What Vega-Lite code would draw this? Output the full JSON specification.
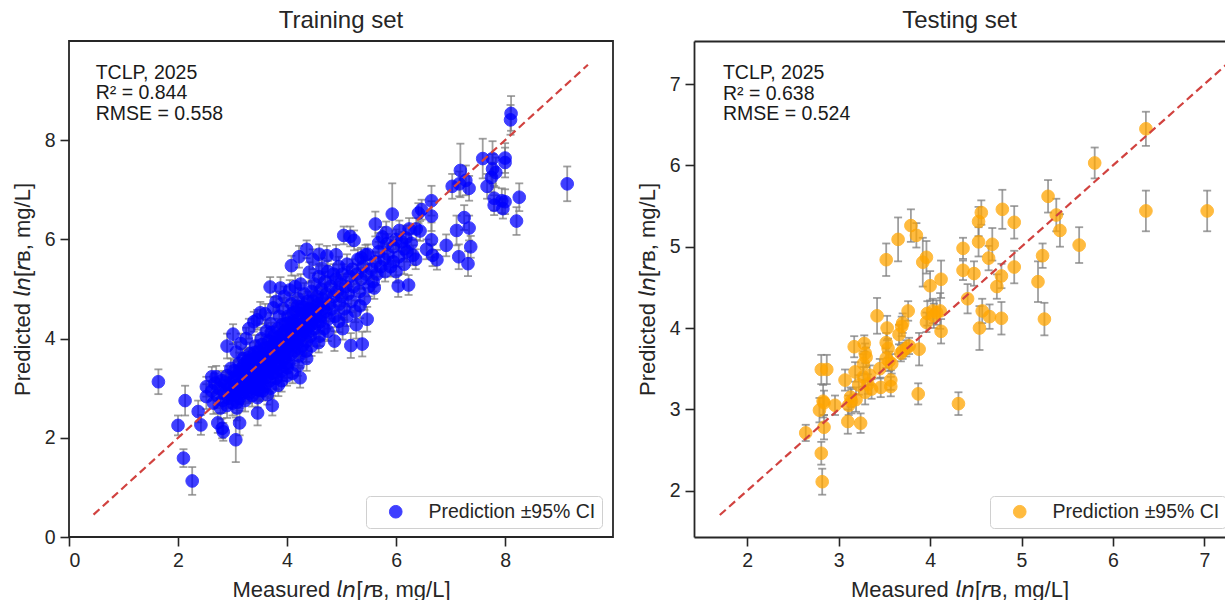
{
  "$schema": "https://vega.github.io/schema/vega-lite/v6.json",
  "padding": {"left": 10, "top": 8, "right": 0, "bottom": 0},
  "spacing": 22,
  "config": {
    "font": "Liberation Sans",
    "view": {"stroke": "#262626", "strokeWidth": 1.8},
    "axis": {"grid": false, "domain": false, "tickColor": "#262626", "tickWidth": 1.6, "tickSize": 9, "labelFontSize": 19.5, "labelColor": "#262626", "labelPadding": 5, "titleFontSize": 22, "titleFontWeight": "normal", "titleColor": "#262626", "titlePadding": 10},
    "title": {"fontSize": 24, "fontWeight": "normal", "color": "#262626", "offset": 8},
    "legend": {"title": null, "strokeColor": "#d0d0d0", "fillColor": "white", "cornerRadius": 4, "padding": 6, "labelFontSize": 19.5, "labelColor": "#262626", "labelLimit": 0, "symbolSize": 160, "symbolOpacity": 0.75, "symbolType": "circle", "symbolOffset": 14, "labelOffset": 23, "symbolStrokeWidth": 1}
  },
  "resolve": {"scale": {"color": "independent"}},
  "datasets": {
    "train": [
      {"x":1.64,"y":3.13,"e":0.25},{"x":2.13,"y":2.75,"e":0.3},{"x":2.00,"y":2.25,"e":0.2},{"x":2.10,"y":1.59,"e":0.18},{"x":2.26,"y":1.13,"e":0.28},
      {"x":2.42,"y":2.26,"e":0.2},{"x":2.37,"y":2.53,"e":0.22},{"x":2.52,"y":3.03,"e":0.2},{"x":2.52,"y":2.83,"e":0.25},{"x":2.62,"y":3.23,"e":0.2},
      {"x":2.70,"y":3.23,"e":0.22},{"x":2.73,"y":2.30,"e":0.2},{"x":2.81,"y":2.19,"e":0.2},{"x":2.83,"y":2.12,"e":0.18},{"x":3.06,"y":1.96,"e":0.45},
      {"x":3.13,"y":2.30,"e":0.25},{"x":3.46,"y":2.50,"e":0.25},{"x":3.73,"y":2.65,"e":0.2},{"x":3.64,"y":2.87,"e":0.2},{"x":3.84,"y":3.06,"e":0.22},
      {"x":3.46,"y":2.81,"e":0.2},{"x":4.24,"y":3.21,"e":0.2},{"x":4.00,"y":3.41,"e":0.2},{"x":4.36,"y":3.60,"e":0.25},{"x":4.58,"y":3.92,"e":0.2},
      {"x":4.87,"y":3.95,"e":0.2},{"x":5.02,"y":4.20,"e":0.22},{"x":5.17,"y":3.86,"e":0.25},{"x":5.38,"y":3.89,"e":0.25},{"x":5.27,"y":4.28,"e":0.28},
      {"x":5.47,"y":4.39,"e":0.25},{"x":5.34,"y":4.66,"e":0.25},{"x":3.01,"y":4.09,"e":0.2},{"x":2.90,"y":3.85,"e":0.25},{"x":3.39,"y":4.34,"e":0.2},
      {"x":3.51,"y":4.52,"e":0.22},{"x":3.69,"y":5.04,"e":0.2},{"x":3.88,"y":5.02,"e":0.22},{"x":4.08,"y":5.47,"e":0.2},{"x":4.22,"y":5.65,"e":0.22},
      {"x":4.36,"y":5.80,"e":0.18},{"x":4.47,"y":5.60,"e":0.2},{"x":4.59,"y":5.70,"e":0.2},{"x":4.73,"y":5.67,"e":0.2},{"x":4.90,"y":5.69,"e":0.2},
      {"x":4.41,"y":5.34,"e":0.2},{"x":4.64,"y":5.42,"e":0.2},{"x":5.04,"y":6.08,"e":0.18},{"x":5.16,"y":6.06,"e":0.2},{"x":5.23,"y":5.98,"e":0.2},
      {"x":5.36,"y":5.63,"e":0.2},{"x":5.44,"y":5.69,"e":0.2},{"x":5.62,"y":6.31,"e":0.25},{"x":5.82,"y":6.14,"e":0.22},{"x":5.83,"y":5.91,"e":0.2},
      {"x":5.93,"y":6.51,"e":0.62},{"x":6.06,"y":6.18,"e":0.2},{"x":6.24,"y":6.21,"e":0.22},{"x":6.41,"y":6.53,"e":0.2},{"x":6.47,"y":6.60,"e":0.2},
      {"x":6.65,"y":6.78,"e":0.3},{"x":6.65,"y":6.47,"e":0.3},{"x":6.37,"y":6.21,"e":0.22},{"x":6.44,"y":6.17,"e":0.2},{"x":6.18,"y":6.03,"e":0.25},
      {"x":6.28,"y":5.92,"e":0.2},{"x":6.15,"y":5.81,"e":0.2},{"x":6.31,"y":5.68,"e":0.2},{"x":6.36,"y":5.60,"e":0.2},{"x":6.56,"y":5.80,"e":0.2},
      {"x":6.65,"y":5.99,"e":0.35},{"x":6.67,"y":5.68,"e":0.22},{"x":6.75,"y":5.59,"e":0.2},{"x":6.92,"y":5.88,"e":0.22},{"x":7.11,"y":6.18,"e":0.3},
      {"x":7.15,"y":5.65,"e":0.25},{"x":7.32,"y":5.51,"e":0.25},{"x":7.37,"y":5.85,"e":0.22},{"x":7.34,"y":6.23,"e":0.25},{"x":7.25,"y":6.44,"e":0.25},
      {"x":7.03,"y":7.07,"e":0.25},{"x":7.18,"y":7.39,"e":0.54},{"x":7.28,"y":7.19,"e":0.3},{"x":7.34,"y":7.03,"e":0.25},{"x":7.16,"y":7.12,"e":0.25},
      {"x":7.59,"y":7.63,"e":0.4},{"x":7.77,"y":7.63,"e":0.35},{"x":7.77,"y":7.42,"e":0.3},{"x":7.83,"y":7.35,"e":0.3},{"x":7.75,"y":7.25,"e":0.3},
      {"x":7.67,"y":7.07,"e":0.25},{"x":8.00,"y":7.64,"e":0.3},{"x":8.00,"y":7.55,"e":0.3},{"x":8.11,"y":8.54,"e":0.35},{"x":8.10,"y":8.41,"e":0.3},
      {"x":7.80,"y":6.83,"e":0.25},{"x":7.94,"y":6.78,"e":0.25},{"x":8.00,"y":6.76,"e":0.25},{"x":7.80,"y":6.69,"e":0.2},{"x":7.96,"y":6.62,"e":0.2},
      {"x":8.26,"y":6.85,"e":0.28},{"x":8.21,"y":6.37,"e":0.28},{"x":9.14,"y":7.12,"e":0.35},
      {"x":2.62,"y":2.95,"e":0.2},{"x":2.65,"y":2.70,"e":0.22},{"x":2.68,"y":3.10,"e":0.2},{"x":2.72,"y":2.85,"e":0.25},{"x":2.75,"y":3.00,"e":0.2},
      {"x":2.78,"y":2.60,"e":0.22},{"x":2.80,"y":3.15,"e":0.2},{"x":2.82,"y":2.75,"e":0.25},{"x":2.85,"y":2.90,"e":0.2},{"x":2.87,"y":3.05,"e":0.22},
      {"x":2.90,"y":2.65,"e":0.25},{"x":2.90,"y":3.25,"e":0.2},{"x":2.93,"y":2.80,"e":0.2},{"x":2.95,"y":3.00,"e":0.22},{"x":2.97,"y":3.40,"e":0.2},
      {"x":3.00,"y":2.70,"e":0.25},{"x":3.00,"y":2.95,"e":0.2},{"x":3.02,"y":3.15,"e":0.2},{"x":3.03,"y":3.35,"e":0.22},{"x":3.05,"y":2.85,"e":0.2},
      {"x":3.07,"y":3.05,"e":0.2},{"x":3.08,"y":2.60,"e":0.25},{"x":3.10,"y":3.25,"e":0.2},{"x":3.10,"y":2.95,"e":0.2},{"x":3.12,"y":3.50,"e":0.22},
      {"x":3.13,"y":2.80,"e":0.2},{"x":3.15,"y":3.10,"e":0.2},{"x":3.17,"y":3.30,"e":0.2},{"x":3.18,"y":2.90,"e":0.22},{"x":3.20,"y":3.60,"e":0.2},
      {"x":3.20,"y":3.00,"e":0.2},{"x":3.22,"y":3.20,"e":0.2},{"x":3.23,"y":2.75,"e":0.22},{"x":3.25,"y":3.40,"e":0.2},{"x":3.26,"y":3.05,"e":0.2},
      {"x":3.28,"y":3.55,"e":0.22},{"x":3.30,"y":2.90,"e":0.2},{"x":3.30,"y":3.25,"e":0.2},{"x":3.32,"y":3.70,"e":0.22},{"x":3.33,"y":3.10,"e":0.2},
      {"x":3.35,"y":3.45,"e":0.2},{"x":3.36,"y":2.85,"e":0.22},{"x":3.38,"y":3.30,"e":0.2},{"x":3.40,"y":3.60,"e":0.2},{"x":3.40,"y":3.00,"e":0.2},
      {"x":3.42,"y":3.85,"e":0.22},{"x":3.43,"y":3.20,"e":0.2},{"x":3.45,"y":3.50,"e":0.2},{"x":3.46,"y":3.10,"e":0.2},{"x":3.48,"y":3.75,"e":0.22},
      {"x":3.50,"y":3.35,"e":0.2},{"x":3.50,"y":2.95,"e":0.2},{"x":3.52,"y":3.60,"e":0.2},{"x":3.53,"y":4.00,"e":0.22},{"x":3.55,"y":3.20,"e":0.2},
      {"x":3.56,"y":3.45,"e":0.2},{"x":3.58,"y":3.80,"e":0.2},{"x":3.60,"y":3.05,"e":0.22},{"x":3.60,"y":3.55,"e":0.2},{"x":3.62,"y":4.15,"e":0.22},
      {"x":3.63,"y":3.35,"e":0.2},{"x":3.65,"y":3.70,"e":0.2},{"x":3.66,"y":3.95,"e":0.2},{"x":3.68,"y":3.15,"e":0.22},{"x":3.70,"y":3.50,"e":0.2},
      {"x":3.70,"y":4.30,"e":0.22},{"x":3.72,"y":3.85,"e":0.2},{"x":3.73,"y":3.30,"e":0.2},{"x":3.75,"y":3.65,"e":0.2},{"x":3.76,"y":4.05,"e":0.2},
      {"x":3.78,"y":3.45,"e":0.2},{"x":3.80,"y":3.90,"e":0.2},{"x":3.80,"y":3.20,"e":0.22},{"x":3.82,"y":3.70,"e":0.2},{"x":3.83,"y":4.20,"e":0.2},
      {"x":3.85,"y":3.50,"e":0.2},{"x":3.86,"y":4.45,"e":0.22},{"x":3.88,"y":3.95,"e":0.2},{"x":3.90,"y":3.35,"e":0.2},{"x":3.90,"y":3.75,"e":0.2},
      {"x":3.92,"y":4.10,"e":0.2},{"x":3.93,"y":4.60,"e":0.22},{"x":3.95,"y":3.60,"e":0.2},{"x":3.96,"y":3.90,"e":0.2},{"x":3.98,"y":4.30,"e":0.2},
      {"x":4.00,"y":3.70,"e":0.2},{"x":4.00,"y":4.05,"e":0.2},{"x":4.02,"y":4.45,"e":0.22},{"x":4.03,"y":3.50,"e":0.2},{"x":4.05,"y":3.85,"e":0.2},
      {"x":4.06,"y":4.20,"e":0.2},{"x":4.08,"y":4.70,"e":0.22},{"x":4.10,"y":3.95,"e":0.2},{"x":4.12,"y":4.35,"e":0.2},{"x":4.13,"y":3.75,"e":0.2},
      {"x":4.15,"y":4.10,"e":0.2},{"x":4.16,"y":4.55,"e":0.22},{"x":4.18,"y":3.90,"e":0.2},{"x":4.20,"y":4.25,"e":0.2},{"x":4.20,"y":4.80,"e":0.22},
      {"x":4.22,"y":3.65,"e":0.2},{"x":4.24,"y":4.40,"e":0.2},{"x":4.25,"y":4.05,"e":0.2},{"x":4.27,"y":4.65,"e":0.2},{"x":4.28,"y":3.85,"e":0.2},
      {"x":4.30,"y":4.30,"e":0.2},{"x":4.32,"y":4.90,"e":0.22},{"x":4.33,"y":4.15,"e":0.2},{"x":4.35,"y":4.50,"e":0.2},{"x":4.36,"y":3.95,"e":0.2},
      {"x":4.38,"y":4.75,"e":0.2},{"x":4.40,"y":4.25,"e":0.2},{"x":4.42,"y":4.60,"e":0.2},{"x":4.43,"y":4.05,"e":0.2},{"x":4.45,"y":4.95,"e":0.22},
      {"x":4.46,"y":4.40,"e":0.2},{"x":4.48,"y":4.75,"e":0.2},{"x":4.50,"y":4.20,"e":0.2},{"x":4.50,"y":5.10,"e":0.22},{"x":4.52,"y":4.55,"e":0.2},
      {"x":4.55,"y":4.85,"e":0.2},{"x":4.56,"y":4.30,"e":0.2},{"x":4.58,"y":5.25,"e":0.22},{"x":4.60,"y":4.65,"e":0.2},{"x":4.62,"y":4.45,"e":0.2},
      {"x":4.63,"y":5.00,"e":0.2},{"x":4.65,"y":4.80,"e":0.2},{"x":4.68,"y":4.20,"e":0.22},{"x":4.70,"y":5.15,"e":0.2},{"x":4.70,"y":4.55,"e":0.2},
      {"x":4.72,"y":4.90,"e":0.2},{"x":4.75,"y":5.35,"e":0.22},{"x":4.76,"y":4.40,"e":0.2},{"x":4.78,"y":4.70,"e":0.2},{"x":4.80,"y":5.05,"e":0.2},
      {"x":4.82,"y":4.60,"e":0.2},{"x":4.85,"y":5.30,"e":0.2},{"x":4.86,"y":4.85,"e":0.2},{"x":4.88,"y":4.45,"e":0.22},{"x":4.90,"y":5.20,"e":0.2},
      {"x":4.92,"y":4.95,"e":0.2},{"x":4.95,"y":5.45,"e":0.2},{"x":4.96,"y":4.70,"e":0.2},{"x":4.98,"y":5.10,"e":0.2},{"x":5.00,"y":4.85,"e":0.2},
      {"x":5.02,"y":5.30,"e":0.2},{"x":5.05,"y":4.60,"e":0.22},{"x":5.08,"y":5.05,"e":0.2},{"x":5.10,"y":5.50,"e":0.2},{"x":5.12,"y":4.90,"e":0.2},
      {"x":5.15,"y":5.25,"e":0.2},{"x":5.18,"y":4.75,"e":0.22},{"x":5.20,"y":5.40,"e":0.2},{"x":5.22,"y":5.05,"e":0.2},{"x":5.25,"y":4.55,"e":0.22},
      {"x":5.28,"y":5.30,"e":0.2},{"x":5.30,"y":5.60,"e":0.2},{"x":5.33,"y":4.95,"e":0.2},{"x":5.36,"y":5.20,"e":0.2},{"x":5.40,"y":5.45,"e":0.2},
      {"x":5.42,"y":4.80,"e":0.22},{"x":5.45,"y":5.30,"e":0.2},{"x":5.48,"y":5.70,"e":0.2},{"x":5.50,"y":5.05,"e":0.2},{"x":5.55,"y":5.40,"e":0.2},
      {"x":5.58,"y":5.15,"e":0.2},{"x":5.62,"y":5.55,"e":0.2},{"x":5.65,"y":5.30,"e":0.22},{"x":5.68,"y":5.75,"e":0.2},{"x":5.72,"y":5.45,"e":0.2},
      {"x":5.60,"y":5.02,"e":0.22},{"x":5.78,"y":5.60,"e":0.2},{"x":5.80,"y":5.35,"e":0.2},{"x":5.85,"y":5.70,"e":0.2},{"x":5.90,"y":5.45,"e":0.2},
      {"x":5.95,"y":5.55,"e":0.2},{"x":6.00,"y":5.35,"e":0.22},{"x":6.05,"y":5.65,"e":0.2},{"x":6.04,"y":5.06,"e":0.22},{"x":6.23,"y":5.08,"e":0.2},
      {"x":6.15,"y":5.50,"e":0.2},{"x":6.20,"y":5.75,"e":0.2},{"x":5.68,"y":5.93,"e":0.2},{"x":5.75,"y":6.05,"e":0.2},{"x":5.95,"y":5.85,"e":0.2},
      {"x":6.00,"y":6.00,"e":0.2},{"x":6.10,"y":5.95,"e":0.2},
      {"x":3.07,"y":3.73,"e":0.2},{"x":3.15,"y":3.90,"e":0.2},{"x":3.25,"y":4.00,"e":0.22},{"x":3.30,"y":4.20,"e":0.2},{"x":3.45,"y":4.38,"e":0.2},
      {"x":3.60,"y":4.50,"e":0.2},{"x":3.75,"y":4.62,"e":0.22},{"x":3.80,"y":4.75,"e":0.2},{"x":3.95,"y":4.85,"e":0.2},{"x":4.05,"y":4.98,"e":0.2},
      {"x":4.15,"y":5.05,"e":0.22},{"x":4.25,"y":5.10,"e":0.2},
      {"x":3.55,"y":2.95,"e":0.2},{"x":3.70,"y":3.00,"e":0.2},{"x":3.90,"y":3.15,"e":0.22},{"x":4.00,"y":3.25,"e":0.2},{"x":4.10,"y":3.30,"e":0.2},
      {"x":4.20,"y":3.45,"e":0.2},{"x":4.35,"y":3.75,"e":0.22},{"x":4.45,"y":3.85,"e":0.2},{"x":4.60,"y":4.05,"e":0.2},{"x":4.75,"y":4.15,"e":0.2},
      {"x":4.95,"y":4.35,"e":0.22},{"x":5.10,"y":4.45,"e":0.2},
      {"x":2.88,"y":3.12,"e":0.2},{"x":2.98,"y":2.88,"e":0.2},{"x":3.04,"y":3.22,"e":0.2},{"x":3.09,"y":2.72,"e":0.22},{"x":3.14,"y":3.38,"e":0.2},
      {"x":3.16,"y":2.98,"e":0.2},{"x":3.21,"y":3.47,"e":0.2},{"x":3.24,"y":3.12,"e":0.2},{"x":3.27,"y":2.95,"e":0.22},{"x":3.29,"y":3.62,"e":0.2},
      {"x":3.31,"y":3.35,"e":0.2},{"x":3.34,"y":3.02,"e":0.2},{"x":3.37,"y":3.55,"e":0.2},{"x":3.39,"y":3.18,"e":0.2},{"x":3.41,"y":3.72,"e":0.22},
      {"x":3.44,"y":3.38,"e":0.2},{"x":3.47,"y":2.98,"e":0.2},{"x":3.49,"y":3.62,"e":0.2},{"x":3.51,"y":3.15,"e":0.2},{"x":3.54,"y":3.88,"e":0.2},
      {"x":3.57,"y":3.32,"e":0.2},{"x":3.59,"y":3.68,"e":0.2},{"x":3.61,"y":3.22,"e":0.2},{"x":3.64,"y":3.52,"e":0.2},{"x":3.67,"y":3.82,"e":0.22},
      {"x":3.69,"y":3.38,"e":0.2},{"x":3.71,"y":4.12,"e":0.2},{"x":3.74,"y":3.58,"e":0.2},{"x":3.77,"y":3.92,"e":0.2},{"x":3.79,"y":3.32,"e":0.2},
      {"x":3.81,"y":3.62,"e":0.2},{"x":3.84,"y":4.02,"e":0.2},{"x":3.87,"y":3.42,"e":0.2},{"x":3.89,"y":3.85,"e":0.2},{"x":3.91,"y":4.28,"e":0.22},
      {"x":3.94,"y":3.72,"e":0.2},{"x":3.97,"y":4.15,"e":0.2},{"x":3.99,"y":3.52,"e":0.2},{"x":4.01,"y":3.92,"e":0.2},{"x":4.04,"y":4.32,"e":0.2},
      {"x":4.07,"y":3.68,"e":0.2},{"x":4.09,"y":4.08,"e":0.2},{"x":4.11,"y":4.52,"e":0.2},{"x":4.14,"y":3.92,"e":0.2},{"x":4.17,"y":4.28,"e":0.2},
      {"x":4.19,"y":4.65,"e":0.2},{"x":4.21,"y":4.02,"e":0.2},{"x":4.23,"y":3.80,"e":0.2},{"x":4.26,"y":4.50,"e":0.2},{"x":4.29,"y":4.15,"e":0.2},
      {"x":4.31,"y":4.62,"e":0.2},{"x":4.34,"y":4.35,"e":0.2},{"x":4.37,"y":4.12,"e":0.2},{"x":4.39,"y":4.55,"e":0.2},{"x":4.44,"y":4.28,"e":0.2},
      {"x":4.47,"y":4.58,"e":0.2},{"x":4.53,"y":4.42,"e":0.2},{"x":4.57,"y":4.70,"e":0.2},{"x":4.61,"y":4.35,"e":0.2},{"x":4.66,"y":4.62,"e":0.2}
    ],
    "test": [
      {"x":6.36,"y":6.45,"e":0.21},{"x":5.80,"y":6.03,"e":0.19},{"x":6.36,"y":5.44,"e":0.25},{"x":7.03,"y":5.44,"e":0.25},{"x":5.29,"y":5.62,"e":0.2},
      {"x":5.38,"y":5.39,"e":0.2},{"x":5.42,"y":5.20,"e":0.2},{"x":5.63,"y":5.02,"e":0.22},{"x":5.23,"y":4.89,"e":0.15},{"x":5.18,"y":4.57,"e":0.25},
      {"x":5.25,"y":4.11,"e":0.2},{"x":4.79,"y":5.46,"e":0.24},{"x":4.92,"y":5.30,"e":0.2},{"x":4.56,"y":5.42,"e":0.15},{"x":4.53,"y":5.31,"e":0.18},
      {"x":4.53,"y":5.06,"e":0.18},{"x":4.68,"y":5.03,"e":0.2},{"x":4.64,"y":4.86,"e":0.15},{"x":4.36,"y":4.98,"e":0.13},{"x":4.36,"y":4.71,"e":0.12},
      {"x":4.48,"y":4.67,"e":0.15},{"x":4.92,"y":4.75,"e":0.2},{"x":4.78,"y":4.64,"e":0.15},{"x":4.73,"y":4.51,"e":0.15},{"x":4.41,"y":4.36,"e":0.18},
      {"x":4.57,"y":4.21,"e":0.15},{"x":4.65,"y":4.14,"e":0.15},{"x":4.78,"y":4.12,"e":0.2},{"x":4.54,"y":4.00,"e":0.27},{"x":4.31,"y":3.07,"e":0.14},
      {"x":3.87,"y":3.19,"e":0.13},{"x":3.79,"y":5.26,"e":0.2},{"x":3.65,"y":5.09,"e":0.27},{"x":3.85,"y":5.14,"e":0.15},{"x":3.52,"y":4.84,"e":0.2},
      {"x":3.92,"y":4.81,"e":0.3},{"x":3.96,"y":4.87,"e":0.2},{"x":4.00,"y":4.52,"e":0.18},{"x":4.12,"y":4.60,"e":0.23},{"x":4.11,"y":4.21,"e":0.22},
      {"x":4.12,"y":3.96,"e":0.15},{"x":3.97,"y":4.18,"e":0.15},{"x":4.03,"y":4.21,"e":0.15},{"x":4.07,"y":4.19,"e":0.15},{"x":3.96,"y":4.07,"e":0.12},
      {"x":4.04,"y":4.15,"e":0.15},{"x":3.76,"y":4.21,"e":0.12},{"x":3.42,"y":4.15,"e":0.22},{"x":3.53,"y":4.00,"e":0.15},{"x":3.69,"y":4.02,"e":0.12},
      {"x":3.70,"y":4.06,"e":0.12},{"x":3.66,"y":3.92,"e":0.12},{"x":3.88,"y":3.74,"e":0.2},{"x":3.52,"y":3.82,"e":0.12},{"x":3.54,"y":3.75,"e":0.12},
      {"x":3.70,"y":3.72,"e":0.1},{"x":3.74,"y":3.75,"e":0.1},{"x":3.68,"y":3.69,"e":0.1},{"x":3.77,"y":3.78,"e":0.1},{"x":3.17,"y":3.77,"e":0.13},
      {"x":3.28,"y":3.81,"e":0.1},{"x":3.29,"y":3.69,"e":0.12},{"x":3.30,"y":3.64,"e":0.12},{"x":3.52,"y":3.63,"e":0.12},{"x":3.58,"y":3.56,"e":0.12},
      {"x":3.55,"y":3.59,"e":0.12},{"x":3.27,"y":3.56,"e":0.12},{"x":3.45,"y":3.50,"e":0.12},{"x":3.18,"y":3.46,"e":0.12},{"x":2.81,"y":3.49,"e":0.18},
      {"x":2.87,"y":3.49,"e":0.18},{"x":3.34,"y":3.42,"e":0.12},{"x":3.27,"y":3.40,"e":0.12},{"x":3.57,"y":3.36,"e":0.12},{"x":3.07,"y":3.36,"e":0.13},
      {"x":3.57,"y":3.28,"e":0.12},{"x":3.46,"y":3.27,"e":0.12},{"x":3.36,"y":3.25,"e":0.12},{"x":3.29,"y":3.21,"e":0.15},{"x":3.13,"y":3.15,"e":0.12},
      {"x":3.14,"y":3.10,"e":0.15},{"x":3.19,"y":3.12,"e":0.15},{"x":3.11,"y":3.05,"e":0.12},{"x":2.83,"y":3.10,"e":0.2},{"x":2.84,"y":3.08,"e":0.15},
      {"x":2.96,"y":3.05,"e":0.12},{"x":2.79,"y":2.99,"e":0.15},{"x":3.10,"y":2.85,"e":0.15},{"x":3.24,"y":2.83,"e":0.12},{"x":2.84,"y":2.78,"e":0.15},
      {"x":2.64,"y":2.71,"e":0.1},{"x":2.81,"y":2.46,"e":0.14},{"x":2.82,"y":2.11,"e":0.16},{"x":3.32,"y":3.31,"e":0.12},{"x":3.22,"y":3.30,"e":0.12}
    ]
  },
  "hconcat": [
    {
      "width": 544,
      "height": 496,
      "title": "Training set",
      "layer": [
        {
          "data": {"name": "train"},
          "mark": {"type": "errorbar", "thickness": 1.8, "color": "#7f7f7f", "opacity": 0.75, "ticks": {"size": 8, "thickness": 1.8}},
          "encoding": {
            "x": {"field": "x", "type": "quantitative", "scale": {"domain": [0, 9.98], "nice": false, "zero": false}, "title": "Measured 𝘭𝘯[𝘳ʙ, mg/L]"},
            "y": {"field": "y", "type": "quantitative", "scale": {"domain": [0, 10], "nice": false, "zero": false}, "title": "Predicted 𝘭𝘯[𝘳ʙ, mg/L]"},
            "yError": {"field": "e"}
          }
        },
        {
          "data": {"name": "train"},
          "mark": {"type": "circle", "size": 160, "opacity": 0.75, "stroke": "#0000ff", "strokeWidth": 1},
          "encoding": {
            "x": {"field": "x", "type": "quantitative", "scale": {"domain": [0, 9.98], "nice": false, "zero": false}, "title": "Measured 𝘭𝘯[𝘳ʙ, mg/L]", "axis": {"values": [0, 2, 4, 6, 8]}},
            "y": {"field": "y", "type": "quantitative", "scale": {"domain": [0, 10], "nice": false, "zero": false}, "title": "Predicted 𝘭𝘯[𝘳ʙ, mg/L]", "axis": {"values": [0, 2, 4, 6, 8]}},
            "color": {"datum": "Prediction ±95% CI", "type": "nominal", "scale": {"range": ["#0000ff"]}, "legend": {"orient": "none", "legendX": 297, "legendY": 455, "symbolStrokeColor": "#0000ff"}}
          }
        },
        {
          "data": {"values": [{"v": 0.45}, {"v": 9.52}]},
          "mark": {"type": "line", "color": "#d1423f", "strokeWidth": 2.2, "strokeDash": [8, 4.5], "clip": true},
          "encoding": {
            "x": {"field": "v", "type": "quantitative", "scale": {"domain": [0, 9.98], "nice": false, "zero": false}, "title": "Measured 𝘭𝘯[𝘳ʙ, mg/L]"},
            "y": {"field": "v", "type": "quantitative", "scale": {"domain": [0, 10], "nice": false, "zero": false}, "title": "Predicted 𝘭𝘯[𝘳ʙ, mg/L]"}
          }
        },
        {
          "data": {"values": [{}]},
          "mark": {"type": "text", "align": "left", "baseline": "alphabetic", "fontSize": 19.5, "lineHeight": 20.5, "color": "#1a1a1a"},
          "encoding": {
            "x": {"datum": 0.49},
            "y": {"datum": 9.24},
            "text": {"value": ["TCLP, 2025", "R² = 0.844", "RMSE = 0.558"]}
          }
        }
      ]
    },
    {
      "width": 531,
      "height": 496,
      "title": "Testing set",
      "view": {"stroke": null},
      "resolve": {"axis": {"x": "independent", "y": "independent"}},
      "layer": [
        {
          "data": {"name": "test"},
          "mark": {"type": "errorbar", "thickness": 1.8, "color": "#7f7f7f", "opacity": 0.75, "ticks": {"size": 8, "thickness": 1.8}},
          "encoding": {
            "x": {"field": "x", "type": "quantitative", "scale": {"domain": [1.418, 7.225], "nice": false, "zero": false}, "axis": null},
            "y": {"field": "y", "type": "quantitative", "scale": {"domain": [1.43, 7.53], "nice": false, "zero": false}, "axis": null},
            "yError": {"field": "e"}
          }
        },
        {
          "data": {"name": "test"},
          "mark": {"type": "circle", "size": 160, "opacity": 0.75, "stroke": "#ffa500", "strokeWidth": 1},
          "encoding": {
            "x": {"field": "x", "type": "quantitative", "scale": {"domain": [1.418, 7.225], "nice": false, "zero": false}, "title": "Measured 𝘭𝘯[𝘳ʙ, mg/L]", "axis": {"values": [2, 3, 4, 5, 6, 7], "domain": true, "domainColor": "#262626", "domainWidth": 1.8}},
            "y": {"field": "y", "type": "quantitative", "scale": {"domain": [1.43, 7.53], "nice": false, "zero": false}, "title": "Predicted 𝘭𝘯[𝘳ʙ, mg/L]", "axis": {"values": [2, 3, 4, 5, 6, 7], "domain": true, "domainColor": "#262626", "domainWidth": 1.8}},
            "color": {"datum": "Prediction ±95% CI", "type": "nominal", "scale": {"range": ["#ffa500"]}, "legend": {"orient": "none", "legendX": 296, "legendY": 455, "symbolStrokeColor": "#ffa500"}}
          }
        },
        {
          "data": {"values": [{"v": 1.7}, {"v": 7.6}]},
          "mark": {"type": "line", "color": "#d1423f", "strokeWidth": 2.2, "strokeDash": [8, 4.5], "clip": true},
          "encoding": {
            "x": {"field": "v", "type": "quantitative", "scale": {"domain": [1.418, 7.225], "nice": false, "zero": false}, "axis": {"orient": "top", "labels": false, "ticks": false, "title": null, "domain": true, "domainColor": "#262626", "domainWidth": 1.8}},
            "y": {"field": "v", "type": "quantitative", "scale": {"domain": [1.43, 7.53], "nice": false, "zero": false}, "axis": null}
          }
        },
        {
          "data": {"values": [{}]},
          "mark": {"type": "text", "align": "left", "baseline": "alphabetic", "fontSize": 19.5, "lineHeight": 20.5, "color": "#1a1a1a"},
          "encoding": {
            "x": {"datum": 1.734, "axis": null},
            "y": {"datum": 7.06, "axis": null},
            "text": {"value": ["TCLP, 2025", "R² = 0.638", "RMSE = 0.524"]}
          }
        }
      ]
    }
  ]
}
